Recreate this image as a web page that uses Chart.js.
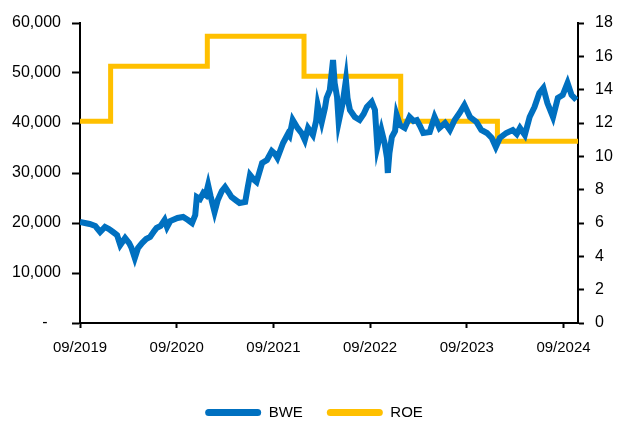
<!DOCTYPE html>
<html>
<head>
<meta charset="utf-8">
<script src="https://cdn.jsdelivr.net/npm/chart.js@4/dist/chart.umd.min.js"></script>
<style>
    html, body { margin: 0; padding: 0; background: #fff; }
    #wrap { width: 628px; height: 424px; }
</style>
</head>
<body>
<div id="wrap"><canvas id="chartBwe"></canvas></div>
<script>
// meses desde 09/2019
const bweMonths = [
    0.0, 0.6, 1.2, 1.9, 2.5, 3.1, 3.6, 4.1, 4.6, 5.0, 5.6, 6.1, 6.4, 6.8, 7.2, 7.7, 8.2, 8.7, 9.2, 9.5,
    10.0, 10.5, 10.8, 11.2, 11.5, 12.1, 12.8, 13.4, 13.9, 14.3, 14.5, 14.9, 15.3, 15.6, 15.9, 16.2, 16.7, 17.1, 17.6, 18.0,
    18.5, 18.8, 19.3, 19.8, 20.5, 20.8, 21.1, 21.6, 21.9, 22.6, 23.2, 23.8, 24.2, 24.5, 25.2, 25.8, 26.0, 26.4, 27.0, 27.5,
    27.9, 28.3, 28.9, 29.3, 29.5, 30.0, 30.4, 30.6, 31.0, 31.4, 31.6, 31.9, 32.1, 32.6, 33.0, 33.2, 33.5, 34.1, 34.7, 35.2,
    35.6, 36.2, 36.6, 36.9, 37.4, 37.8, 38.1, 38.2, 38.4, 38.7, 39.1, 39.3, 39.7, 40.3, 40.9, 41.4, 41.8, 42.2, 42.6, 43.4,
    44.0, 44.6, 45.3, 45.9, 46.5, 47.1, 47.7, 48.4, 49.2, 49.8, 50.5, 51.1, 51.6, 52.1, 52.9, 53.7, 54.2, 54.6, 55.2, 55.8,
    56.4, 57.0, 57.5, 58.0, 58.7, 59.3, 59.9, 60.5, 61.0, 61.6
];
const bweValues = [
    20200, 20000, 19800, 19400, 18200, 19200, 18800, 18200, 17600, 15600, 17000, 16000, 15000, 13000, 15000, 16000, 16800, 17200, 18400, 19000,
    19400, 20600, 19200, 20400, 20600, 21000, 21200, 20600, 20000, 21600, 25200, 24800, 26000, 25600, 27600, 25400, 22200, 24600, 26400, 27200,
    26000, 25200, 24600, 24000, 24200, 27000, 29600, 28600, 28200, 32000, 32600, 34400, 33800, 33000, 36000, 37800, 37400, 40600, 39000, 38000,
    36600, 39000, 37600, 40400, 43600, 40200, 43000, 45000, 46600, 52600, 48000, 45200, 40200, 44000, 48600, 45000, 42600, 41200, 40600, 41800,
    43200, 44200, 42600, 35200, 38600, 36000, 33000, 30000, 34000, 37200, 38400, 41600, 39600, 39000, 41200, 40400, 40600, 39400, 38000, 38200,
    41200, 39000, 40000, 38600, 40600, 42000, 43600, 41200, 40200, 38600, 38000, 37000, 35200, 37000, 38000, 38600, 37800, 39000, 37600, 41200,
    43200, 46000, 47000, 44000, 41200, 45000, 45600, 48000, 45600, 44600
];

// ROE escalonado
const roeMonths = [0, 3.8, 15.8, 27.8, 39.8, 51.8, 61.8];
const roeValues = [12.1, 15.4, 17.2, 14.8, 12.1, 10.9, 10.9];

const xTickMonths = [0, 12, 24, 36, 48, 60];
const xTickLabels = ['09/2019', '09/2020', '09/2021', '09/2022', '09/2023', '09/2024'];

const azul = '#0070C0';
const amarillo = '#FFC000';

Chart.defaults.font.family = '"Liberation Sans", Arial, sans-serif';
Chart.defaults.font.size = 15;
Chart.defaults.color = '#000';

function ejeNegro(largo) {
    return {
        display: true,
        drawOnChartArea: false,
        drawTicks: true,
        tickLength: largo,
        tickWidth: 2,
        color: '#000'
    };
}

new Chart(
    document.getElementById('chartBwe'),
    {
        type: 'line',
        data: {
            datasets: [{
                label: 'BWE',
                data: bweMonths.map((m, i) => ({ x: m, y: bweValues[i] })),
                borderColor: azul,
                backgroundColor: azul,
                borderWidth: 6,
                pointRadius: 0,
                tension: 0,
                yAxisID: 'y'
            }, {
                label: 'ROE',
                data: roeMonths.map((m, i) => ({ x: m, y: roeValues[i] })),
                borderColor: amarillo,
                backgroundColor: amarillo,
                borderWidth: 5,
                pointRadius: 0,
                stepped: 'before',
                yAxisID: 'y2'
            }]
        },
        options: {
            responsive: true,
            maintainAspectRatio: false,
            animation: false,
            layout: {
                padding: { top: 23, left: 0, right: 0, bottom: -6 }
            },
            plugins: {
                legend: {
                    position: 'bottom',
                    labels: {
                        boxWidth: 56,
                        boxHeight: 7,
                        useBorderRadius: true,
                        borderRadius: 3.5,
                        padding: 24,
                        font: { size: 15 },
                        generateLabels: (chart) => Chart.defaults.plugins.legend.labels.generateLabels(chart)
                            .map(l => Object.assign(l, { lineWidth: 0 }))
                    }
                },
                tooltip: { enabled: false }
            },
            scales: {
                x: {
                    type: 'linear',
                    min: 0,
                    max: 61.8,
                    grid: ejeNegro(5),
                    border: { display: true, color: '#000', width: 2 },
                    afterBuildTicks: (scale) => {
                        scale.ticks = xTickMonths.map(v => ({ value: v }));
                    },
                    ticks: {
                        padding: 11,
                        maxRotation: 0,
                        font: { size: 15 },
                        callback: (v) => xTickLabels[xTickMonths.indexOf(v)]
                    },
                    afterFit: (scale) => { scale.height = 58; }
                },
                y: {
                    position: 'left',
                    min: 0,
                    max: 60000,
                    grid: ejeNegro(8),
                    border: { display: true, color: '#000', width: 2 },
                    ticks: {
                        stepSize: 10000,
                        padding: 11,
                        font: { size: 16 },
                        callback: (v) => v === 0 ? '-   ' : v.toLocaleString('en-US')
                    },
                    afterFit: (scale) => { scale.width = 80; }
                },
                y2: {
                    position: 'right',
                    min: 0,
                    max: 18,
                    grid: ejeNegro(6),
                    border: { display: true, color: '#000', width: 2 },
                    ticks: {
                        stepSize: 2,
                        padding: 11,
                        font: { size: 16 }
                    },
                    afterFit: (scale) => { scale.width = 50; }
                }
            }
        }
    }
);
</script>
</body>
</html>
